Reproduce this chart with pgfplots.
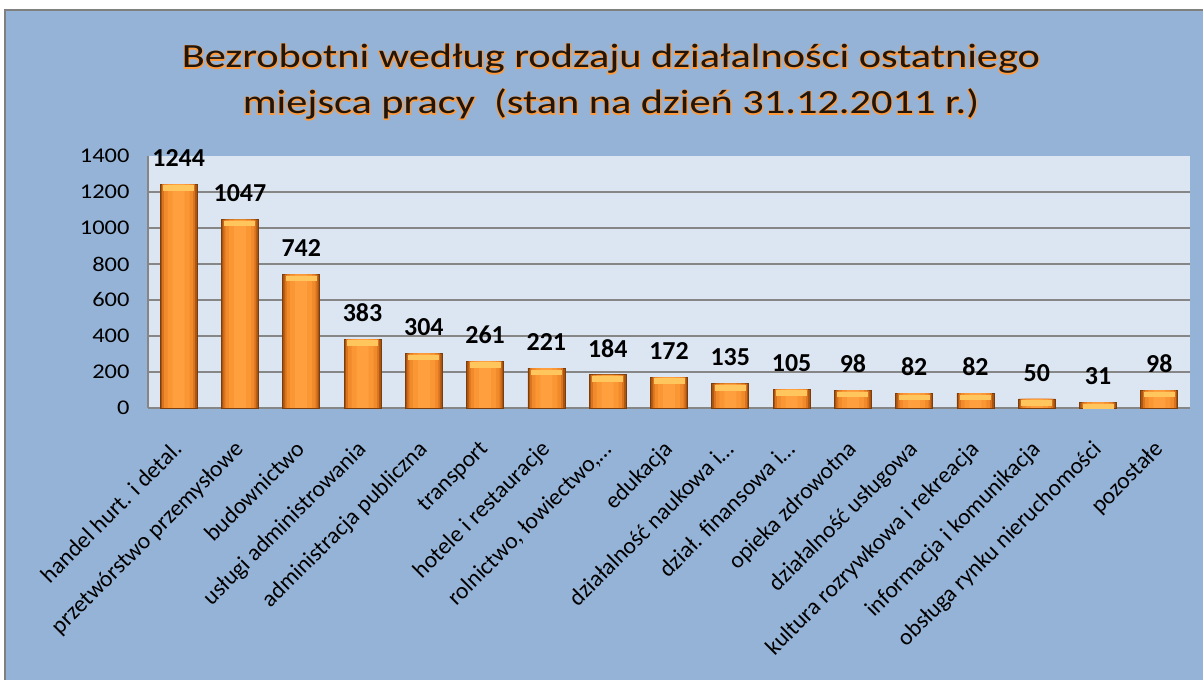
\documentclass[border=0pt]{standalone}
\usepackage{pgfplots}
\usepackage{pgfplotstable}
\pgfplotsset{compat=1.18}
\usepackage{fontspec}
\setmainfont{Carlito}
\newfontfamily\titlefont{Carlito}[FakeStretch=1.25]
\newfontfamily\glowfont{Carlito}[FakeStretch=1.25, FakeBold=6]
\newfontfamily\tickfont{Carlito}[FakeStretch=1.17]
\definecolor{bgblue}{HTML}{95B3D7}
\definecolor{plotbg}{HTML}{DCE6F2}
\definecolor{gridgray}{HTML}{868686}
\definecolor{barA}{HTML}{A85511}
\definecolor{barB}{HTML}{D9731F}
\definecolor{barC}{HTML}{F08A2B}
\definecolor{barD}{HTML}{FA9633}
\definecolor{barE}{HTML}{FF9F3D}
\definecolor{barEdge}{HTML}{7A3D0C}
\definecolor{capyellow}{HTML}{FFC65E}
\definecolor{titleorange}{HTML}{FF9A3C}
\definecolor{titletext}{HTML}{1E160F}
\pgfplotstableread{
x y
0 1244
1 1047
2 742
3 383
4 304
5 261
6 221
7 184
8 172
9 135
10 105
11 98
12 82
13 82
14 50
15 31
16 98
}\bardata
\begin{document}
\begin{tikzpicture}[x=1bp,y=1bp]
\useasboundingbox (0,0) rectangle (1203,680);
\fill[white] (0,0) rectangle (1203,680);
\fill[bgblue] (5,0) rectangle (1203,670);
\draw[gray, line width=2bp] (5,0) -- (5,670) -- (1203,670);
\node[align=center, text=titleorange, font=\glowfont\fontsize{34}{46}\selectfont] at (611,598)
  {Bezrobotni według rodzaju działalności ostatniego\\
   miejsca pracy\ \ (stan na dzień 31.12.2011 r.)};
\node[align=center, text=titletext, font=\titlefont\fontsize{34}{46}\selectfont] at (611,598)
  {Bezrobotni według rodzaju działalności ostatniego\\
   miejsca pracy\ \ (stan na dzień 31.12.2011 r.)};
\begin{axis}[
  at={(148bp,272bp)}, anchor=south west,
  width=1042bp, height=252bp, scale only axis,
  xmin=-0.5, xmax=16.5, ymin=0, ymax=1400,
  axis background/.style={fill=plotbg},
  axis x line*=bottom, axis y line*=left,
  axis line style={gridgray, line width=1.5bp, -},
  tick style={draw=none},
  ytick={0,200,...,1400},
  extra y ticks={200,400,600,800,1000,1200},
  extra y tick labels={},
  extra y tick style={ymajorgrids=true},
  major grid style={gridgray, line width=1.3bp},
  /pgf/number format/1000 sep={},
  /pgf/number format/assume math mode=true,
  yticklabel={\tickfont\fontsize{21}{24}\selectfont\pgfmathprintnumber{\tick}\hspace*{15bp}},
  yticklabel style={text=black},
  xtick={0,...,16},
  xticklabels={handel hurt. i detal., przetwórstwo przemysłowe, budownictwo, usługi administrowania, administracja publiczna, transport, hotele i restauracje, {rolnictwo, łowiectwo,…}, edukacja, działalność naukowa i…, dział. finansowa i…, opieka zdrowotna, działalność usługowa, kultura rozrywkowa i rekreacja, informacja i komunikacja, obsługa rynku nieruchomości, pozostałe},
  xticklabel style={yshift=-22bp, xshift=-7bp, rotate=45, anchor=north east, font=\fontsize{23.5}{26}\selectfont, text=black},
  clip=false,
  ybar, bar shift=0pt,
]
\addplot[ybar, bar shift=0pt, bar width=37bp, draw=barEdge, line width=0.8bp, fill=barA] table[x=x,y=y] {\bardata};
\addplot[ybar, bar shift=0pt, bar width=33bp, draw=none, fill=barB] table[x=x,y=y] {\bardata};
\addplot[ybar, bar shift=0pt, bar width=29bp, draw=none, fill=barC] table[x=x,y=y] {\bardata};
\addplot[ybar, bar shift=0pt, bar width=22bp, draw=none, fill=barD] table[x=x,y=y] {\bardata};
\addplot[ybar, bar shift=0pt, bar width=12bp, draw=none, fill=barE] table[x=x,y=y] {\bardata};
\addplot[ybar, bar shift=0pt, bar width=1bp, draw=none, fill=none,
  nodes near coords={},
  every node near coord/.style={anchor=north, fill=capyellow, minimum width=31bp, minimum height=5.5bp, inner sep=0pt, yshift=-1.2bp}] table[x=x,y=y] {\bardata};
\addplot[ybar, bar shift=0pt, bar width=1bp, draw=none, fill=none,
  nodes near coords,
  nodes near coords style={font=\bfseries\fontsize{26}{28}\selectfont, text=black, yshift=14bp}] table[x=x,y=y] {\bardata};
\end{axis}
\end{tikzpicture}
\end{document}
